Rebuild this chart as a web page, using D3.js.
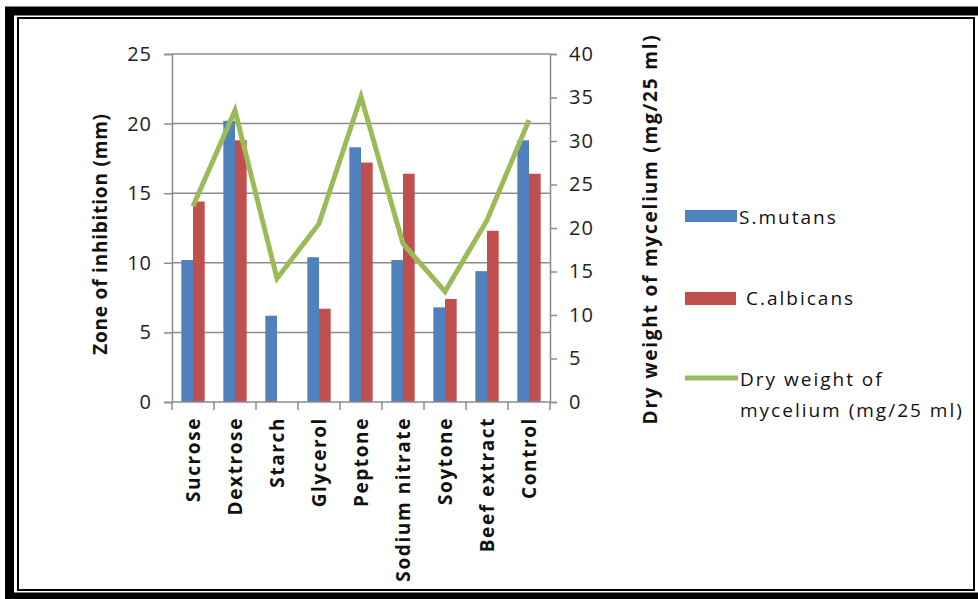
<!DOCTYPE html>
<html>
<head>
<meta charset="utf-8">
<script src="https://cdn.jsdelivr.net/npm/d3@7/dist/d3.min.js"></script>
<style>
  html, body { margin: 0; padding: 0; background: #fff; }
  svg { display: block; }
  text { font-family: "Open Sans", "Liberation Sans", sans-serif; }
</style>
</head>
<body>
<svg id="chart" width="978" height="599"></svg>
<script>
// Carbon / nitrogen sources tested
const categories = ["Sucrose", "Dextrose", "Starch", "Glycerol", "Peptone",
                    "Sodium nitrate", "Soytone", "Beef extract", "Control"];
// Zone of inhibition (mm)
const sMutans   = [10.2, 20.2, 6.2, 10.4, 18.3, 10.2, 6.8, 9.4, 18.8];
const cAlbicans = [14.4, 18.8, 0,   6.7,  17.2, 16.4, 7.4, 12.3, 16.4];
// Dry weight of mycelium (mg/25 ml)
const dryWeight = [22.5, 33.5, 14.2, 20.5, 35.1, 18.2, 12.7, 20.9, 32.4];

const leftTicks  = [0, 5, 10, 15, 20, 25];
const rightTicks = [0, 5, 10, 15, 20, 25, 30, 35, 40];

const colors = { blue: "#4F81BD", red: "#C0504D", green: "#9BBB59", grid: "#8c8c8c" };

const svg = d3.select("#chart");

// double frame
svg.append("rect").attr("x", 9.5).attr("y", 11).attr("width", 975).attr("height", 586)
  .attr("fill", "none").attr("stroke", "#000").attr("stroke-width", 9);
svg.append("rect").attr("x", 18).attr("y", 18).attr("width", 956).attr("height", 572)
  .attr("fill", "none").attr("stroke", "#000").attr("stroke-width", 2);

const plot = { left: 172, right: 550, top: 54, bottom: 402 };

const x = d3.scaleBand().domain(categories).range([plot.left, plot.right]);
const sub = d3.scaleBand().domain(["s", "c"]).range([0, x.bandwidth()]).paddingInner(0).paddingOuter(0.8);
const yL = d3.scaleLinear().domain([0, 25]).range([plot.bottom, plot.top]);
const yR = d3.scaleLinear().domain([0, 40]).range([plot.bottom, plot.top]);

// horizontal gridlines
svg.append("g").selectAll("line").data(leftTicks.filter(d => d > 0)).join("line")
  .attr("x1", plot.left).attr("x2", plot.right)
  .attr("y1", d => yL(d)).attr("y2", d => yL(d))
  .attr("stroke", colors.grid).attr("stroke-width", 1.5);

// bars
const groups = svg.append("g").selectAll("g").data(categories).join("g")
  .attr("transform", d => `translate(${x(d)},0)`);
groups.append("rect")
  .attr("x", sub("s")).attr("width", sub.bandwidth())
  .attr("y", (d, i) => yL(sMutans[i])).attr("height", (d, i) => plot.bottom - yL(sMutans[i]))
  .attr("fill", colors.blue);
groups.append("rect")
  .attr("x", sub("c")).attr("width", sub.bandwidth())
  .attr("y", (d, i) => yL(cAlbicans[i])).attr("height", (d, i) => plot.bottom - yL(cAlbicans[i]))
  .attr("fill", colors.red);

// dry weight line
const line = d3.line()
  .x((d, i) => x(categories[i]) + x.bandwidth() / 2)
  .y(d => yR(d));
svg.append("path").datum(dryWeight).attr("d", line)
  .attr("fill", "none").attr("stroke", colors.green).attr("stroke-width", 5)
  .attr("stroke-linejoin", "miter");

// left axis
const axL = svg.append("g").attr("transform", `translate(${plot.left},0)`)
  .call(d3.axisLeft(yL).tickValues(leftTicks).tickSize(8).tickPadding(12));
// right axis
const axR = svg.append("g").attr("transform", `translate(${plot.right},0)`)
  .call(d3.axisRight(yR).tickValues(rightTicks).tickSize(7).tickPadding(12));
// bottom axis with ticks at category boundaries
const boundaries = d3.range(categories.length + 1).map(i => plot.left + i * x.step());
const axB = svg.append("g");
axB.append("line").attr("x1", plot.left).attr("x2", plot.right)
  .attr("y1", plot.bottom).attr("y2", plot.bottom);
axB.selectAll("line.tick").data(boundaries).join("line").attr("class", "tick")
  .attr("x1", d => d).attr("x2", d => d).attr("y1", plot.bottom).attr("y2", plot.bottom + 8);
axB.selectAll("line").attr("stroke", colors.grid).attr("stroke-width", 1.5);

[axL, axR].forEach(a => {
  a.select(".domain").attr("stroke", colors.grid).attr("stroke-width", 1.5);
  a.selectAll(".tick line").attr("stroke", colors.grid).attr("stroke-width", 1.5);
  a.selectAll(".tick text").attr("font-size", 20).attr("fill", "#222")
    .attr("letter-spacing", 1)
    .style("font-family", "'Open Sans', sans-serif");
});

// category labels, rotated
svg.append("g").selectAll("text").data(categories).join("text")
  .attr("transform", d => `translate(${x(d) + x.bandwidth() / 2 + 7},${plot.bottom + 15}) rotate(-90)`)
  .attr("text-anchor", "end")
  .attr("font-size", 19).attr("font-weight", "bold").attr("fill", "#111")
  .attr("letter-spacing", 1.6)
  .text(d => d);

// axis titles
svg.append("text")
  .attr("transform", `translate(107,${(plot.top + plot.bottom) / 2 + 6}) rotate(-90)`)
  .attr("text-anchor", "middle").attr("font-size", 19).attr("font-weight", "bold").attr("fill", "#111")
  .attr("letter-spacing", 0.8)
  .text("Zone of inhibition (mm)");
svg.append("text")
  .attr("transform", `translate(657,229) rotate(-90)`)
  .attr("text-anchor", "middle").attr("font-size", 19).attr("font-weight", "bold").attr("fill", "#111")
  .attr("letter-spacing", 1.8)
  .text("Dry weight of mycelium (mg/25 ml)");

// legend
const legend = svg.append("g").attr("font-size", 19).attr("fill", "#111").attr("letter-spacing", 2);
legend.append("rect").attr("x", 685).attr("y", 210).attr("width", 52).attr("height", 12).attr("fill", colors.blue);
legend.append("text").attr("x", 739).attr("y", 224).text("S.mutans");
legend.append("rect").attr("x", 685).attr("y", 292).attr("width", 51).attr("height", 13).attr("fill", colors.red);
legend.append("text").attr("x", 746).attr("y", 305).text("C.albicans");
legend.append("line").attr("x1", 685).attr("x2", 738).attr("y1", 378).attr("y2", 378)
  .attr("stroke", colors.green).attr("stroke-width", 5);
legend.append("text").attr("x", 740).attr("y", 386).text("Dry weight of");
legend.append("text").attr("x", 740).attr("y", 417).text("mycelium (mg/25 ml)");
</script>
</body>
</html>
